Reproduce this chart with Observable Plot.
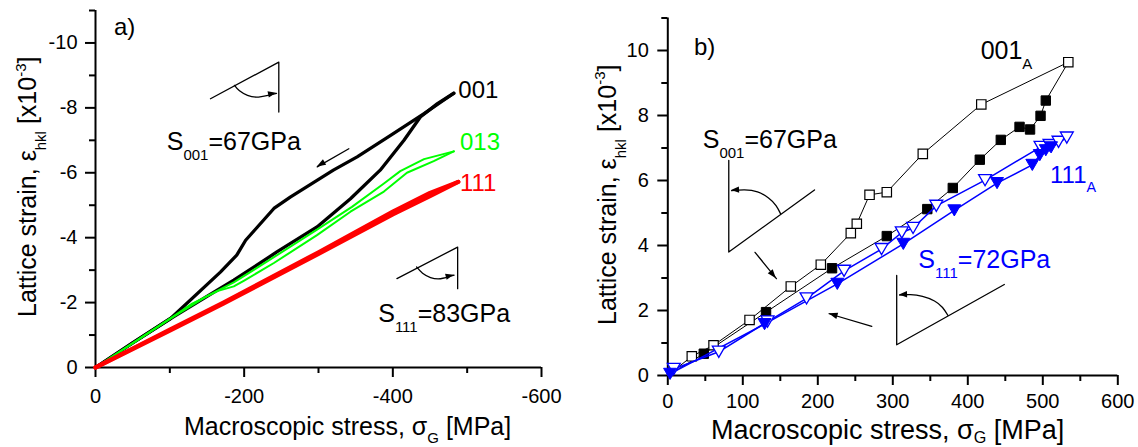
<!DOCTYPE html>
<html>
<head>
<meta charset="utf-8">
<script src="https://cdn.jsdelivr.net/npm/d3@7"></script>
<script src="https://cdn.jsdelivr.net/npm/@observablehq/plot@0.6"></script>
<style>
  body { margin: 0; background: #fff; }
  #wrap { display: flex; width: 1138px; height: 447px; overflow: hidden; background: #fff; }
  #wrap svg { display: block; flex: none; }
</style>
</head>
<body>
<div id="wrap"></div>
<script>
const FONT = '"Liberation Sans", Arial, Helvetica, sans-serif';

// ---------------- Panel a) : compression, lattice strain vs stress ----------------
const a001LoadX   = [0, -50, -101, -186, -244, -298, -343, -383, -415, -437, -460, -482];
const a001LoadY   = [0, -0.76, -1.51, -2.69, -3.56, -4.33, -5.20, -6.08, -7.00, -7.72, -8.13, -8.45];
const a001UnloadX = [-482, -442, -397, -352, -320, -262, -240, -202, -190, -168, -101, -50, 0];
const a001UnloadY = [-8.45, -7.82, -7.15, -6.49, -6.08, -5.25, -4.90, -3.92, -3.46, -2.94, -1.51, -0.76, 0];

const a013UpX  = [0, -60, -100, -150, -186, -240, -298, -345, -388, -410, -442, -482];
const a013UpY  = [0, -0.90, -1.50, -2.20, -2.62, -3.40, -4.25, -4.95, -5.67, -6.05, -6.42, -6.66];
const a013LowX = [-482, -455, -419, -388, -343, -298, -240, -200, -186, -165, -130, -100, -60, 0];
const a013LowY = [-6.66, -6.36, -6.00, -5.42, -4.80, -4.08, -3.22, -2.68, -2.50, -2.36, -1.97, -1.50, -0.90, 0];

const a111LoadX   = [0, -100, -172, -300, -400, -450, -488];
const a111LoadY   = [0, -1.17, -2.00, -3.55, -4.80, -5.38, -5.72];
const a111UnloadX = [-488, -450, -400, -300, -172, -100, 0];
const a111UnloadY = [-5.72, -5.28, -4.72, -3.50, -1.97, -1.14, 0];

const aXMajor = [0, -200, -400, -600];
const aXMinor = [-100, -300, -500];
const aYMajor = [0, -2, -4, -6, -8, -10];
const aYMinor = [-1, -3, -5, -7, -9, -11];

// ---------------- Panel b) : tension, markers ----------------
const bOrigin = [0, 0];
const b001OpenX   = [32, 61, 109, 164, 204, 244, 252, 269, 292, 340, 418, 534];
const b001OpenY   = [0.59, 0.93, 1.71, 2.74, 3.41, 4.38, 4.67, 5.56, 5.64, 6.82, 8.34, 9.64];
const b001FilledX = [504, 497, 483, 469, 444, 416, 380, 346, 292, 219, 131, 48];
const b001FilledY = [8.46, 7.99, 7.57, 7.65, 7.25, 6.64, 5.77, 5.12, 4.29, 3.30, 1.95, 0.67];

const b111OpenX   = [8, 68, 133, 185, 235, 285, 312, 327, 358, 423, 497, 509, 521, 532];
const b111OpenY   = [0.20, 0.73, 1.66, 2.37, 3.22, 3.89, 4.40, 4.54, 5.22, 6.01, 7.03, 7.09, 7.19, 7.32];
const b111FilledX = [511, 504, 496, 486, 439, 382, 314, 226, 129, 3];
const b111FilledY = [7.02, 6.93, 6.78, 6.48, 5.92, 5.08, 4.05, 2.82, 1.58, 0.05];

const bXMajor = [0, 100, 200, 300, 400, 500, 600];
const bXMinor = [50, 150, 250, 350, 450, 550];
const bYMajor = [0, 2, 4, 6, 8, 10];
const bYMinor = [1, 3, 5, 7, 9, 11];

// ---------------- Annotation sketches (data units) ----------------
const aAngle1X = [-154.7, -246.6, -246.6], aAngle1Y = [-8.28, -9.41, -7.87];
const aArc1X = [-187.0, -193.7, -204.5, -219.3, -243.5], aArc1Y = [-8.694, -8.525, -8.386, -8.334, -8.448];
const aAngle2X = [-405.5, -487.2, -487.2], aAngle2Y = [-2.74, -3.71, -2.43];
const aArc2X = [-431.9, -440.0, -450.7, -464.2, -482.4], aArc2Y = [-3.098, -2.904, -2.772, -2.735, -2.843];
const aArrowX = [-340.8, -298.3], aArrowY = [-6.74, -6.18];

const bAngle1X = [81.3, 81.3, 195.6], bAngle1Y = [6.62, 3.80, 5.71];
const bArc1X = [150.3, 144.3, 134.3, 119.6, 102.3, 85.0], bArc1Y = [4.98, 5.23, 5.46, 5.65, 5.71, 5.69];
const bArrow1X = [116.3, 144.8], bArrow1Y = [3.79, 2.98];
const bAngle2X = [305.2, 305.2, 448.7], bAngle2Y = [3.08, 0.945, 2.80];
const bArc2X = [373.6, 366.3, 355.6, 339.6, 323.6, 309.0], bArc2Y = [1.846, 2.092, 2.292, 2.431, 2.486, 2.477];
const bArrow2X = [272, 215.1], bArrow2Y = [1.51, 1.90];

// ---------------- Helpers ----------------
const pts = (xs, ys) => xs.map((x, i) => ({x, y: ys[i]}));

const triDown = {
  draw(ctx, size) {
    const r = Math.sqrt(size / Math.PI);
    const s = r * 1.9, h = s * Math.sqrt(3) / 2;
    ctx.moveTo(-s / 2, -h / 2);
    ctx.lineTo(s / 2, -h / 2);
    ctx.lineTo(0, h / 2);
    ctx.closePath();
  }
};

function axes(xMaj, xMin, yMaj, yMin, xPad, yPad) {
  return [
    Plot.axisX({ticks: xMaj, tickSize: 10, tickPadding: xPad, tickFormat: d => String(d), fontSize: 20, strokeWidth: 2, label: null}),
    Plot.axisX({ticks: xMin, tickSize: 6, tickFormat: () => "", strokeWidth: 2, label: null}),
    Plot.axisY({ticks: yMaj, tickSize: 10, tickPadding: yPad, tickFormat: d => String(d), fontSize: 20, strokeWidth: 2, label: null}),
    Plot.axisY({ticks: yMin, tickSize: 6, tickFormat: () => "", strokeWidth: 2, label: null}),
    Plot.ruleY([0], {strokeWidth: 2}),
    Plot.ruleX([0], {strokeWidth: 2})
  ];
}

function addText(svg, px, py, parts, size, color, rotate, subShift = 0.4) {
  const t = d3.select(svg).append("text")
    .attr("x", px).attr("y", py)
    .attr("font-size", size).attr("fill", color)
    .attr("font-family", FONT)
    .attr("text-anchor", "start")
    .style("white-space", "pre");
  if (rotate) t.attr("transform", `rotate(${rotate} ${px} ${py})`);
  let shift = 0;
  for (const [txt, kind] of parts) {
    const target = kind === "sub" ? subShift * size : kind === "sup" ? -0.42 * size : 0;
    const s = t.append("tspan").text(txt).attr("dy", target - shift);
    if (kind) s.attr("font-size", size * 0.6);
    shift = target;
  }
  return t;
}

function addHead(svg, xs, ys, len = 9, wid = 3.5) {
  const sx = svg.scale("x"), sy = svg.scale("y");
  const n = xs.length;
  const x1 = sx.apply(xs[n - 2]), y1 = sy.apply(ys[n - 2]);
  const x2 = sx.apply(xs[n - 1]), y2 = sy.apply(ys[n - 1]);
  const a = Math.atan2(y2 - y1, x2 - x1);
  const bx = x2 - len * Math.cos(a), by = y2 - len * Math.sin(a);
  const px = -Math.sin(a) * wid, py = Math.cos(a) * wid;
  d3.select(svg).append("path")
    .attr("d", `M${x2},${y2}L${bx + px},${by + py}L${bx - px},${by - py}Z`)
    .attr("fill", "black");
}

function addLabel(svg, lab) {
  const sx = svg.scale("x"), sy = svg.scale("y");
  addText(svg, sx.apply(lab.x), sy.apply(lab.y), lab.parts, lab.size, lab.color);
}

const sketch = {stroke: "black", strokeWidth: 1.3, fill: "none"};

// ---------------- Panel a ----------------
const panelA = Plot.plot({
  width: 580, height: 447,
  marginLeft: 95, marginRight: 39, marginTop: 10, marginBottom: 80,
  style: {fontFamily: FONT, background: "white", color: "black", overflow: "visible"},
  x: {domain: [0, -600], axis: null},
  y: {domain: [0, -11], axis: null},
  marks: [
    ...axes(aXMajor, aXMinor, aYMajor, aYMinor, 11, 8),
    Plot.line(pts(aAngle1X, aAngle1Y), {x: "x", y: "y", ...sketch}),
    Plot.line(pts(aArc1X, aArc1Y), {x: "x", y: "y", curve: "natural", ...sketch}),
    Plot.line(pts(aAngle2X, aAngle2Y), {x: "x", y: "y", ...sketch}),
    Plot.line(pts(aArc2X, aArc2Y), {x: "x", y: "y", curve: "natural", ...sketch}),
    Plot.line(pts(aArrowX, aArrowY), {x: "x", y: "y", ...sketch}),
    Plot.line(pts(a001LoadX, a001LoadY), {x: "x", y: "y", stroke: "black", strokeWidth: 3.3, strokeLinejoin: "round"}),
    Plot.line(pts(a001UnloadX, a001UnloadY), {x: "x", y: "y", stroke: "black", strokeWidth: 3.3, strokeLinejoin: "round"}),
    Plot.line(pts(a013UpX, a013UpY), {x: "x", y: "y", stroke: "#00ff00", strokeWidth: 2, strokeLinejoin: "round"}),
    Plot.line(pts(a013LowX, a013LowY), {x: "x", y: "y", stroke: "#00ff00", strokeWidth: 2, strokeLinejoin: "round"}),
    Plot.line(pts(a111LoadX, a111LoadY), {x: "x", y: "y", stroke: "#ff0000", strokeWidth: 4.2, strokeLinejoin: "round"}),
    Plot.line(pts(a111UnloadX, a111UnloadY), {x: "x", y: "y", stroke: "#ff0000", strokeWidth: 4.2, strokeLinejoin: "round"})
  ]
});
addHead(panelA, aArc1X, aArc1Y, 8, 3.2);
addHead(panelA, aArc2X, aArc2Y, 8, 3.2);
addHead(panelA, aArrowX, aArrowY, 9, 3.2);
[
  {x: -25.6, y: -10.23, parts: [["a)"]], size: 24, color: "black"},
  {x: -488.8, y: -8.28, parts: [["001"]], size: 24, color: "black"},
  {x: -491, y: -6.69, parts: [["013"]], size: 24, color: "#00ff00"},
  {x: -491, y: -5.41, parts: [["111"]], size: 24, color: "#ff0000"},
  {x: -96.5, y: -6.69, parts: [["S"], ["001", "sub"], ["=67GPa"]], size: 25, color: "black"},
  {x: -381, y: -1.40, parts: [["S"], ["111", "sub"], ["=83GPa"]], size: 25, color: "black"}
].forEach(l => addLabel(panelA, l));
addText(panelA, 184, 435, [["Macroscopic stress, σ"], ["G", "sub"], [" [MPa]"]], 25, "black", 0, 0.3);
addText(panelA, 36, 317, [["Lattice strain, ε"], ["hkl", "sub"], [" [x10"], ["-3", "sup"], ["]"]], 25, "black", -90);

// ---------------- Panel b ----------------
const b001Line = [pts([bOrigin[0]], [bOrigin[1]]), pts(b001OpenX, b001OpenY), pts(b001FilledX, b001FilledY), pts([bOrigin[0]], [bOrigin[1]])].flat();
const b111Line1 = pts(b111OpenX, b111OpenY);
const b111Line2 = [pts(b111OpenX.slice(-1), b111OpenY.slice(-1)), pts(b111FilledX, b111FilledY)].flat();

const panelB = Plot.plot({
  width: 558, height: 447,
  marginLeft: 87.3, marginRight: 20.7, marginTop: 17.5, marginBottom: 72,
  style: {fontFamily: FONT, background: "white", color: "black", overflow: "visible"},
  x: {domain: [0, 600], axis: null},
  y: {domain: [0, 11], axis: null},
  marks: [
    ...axes(bXMajor, bXMinor, bYMajor, bYMinor, 8, 9),
    Plot.line(pts(bAngle1X, bAngle1Y), {x: "x", y: "y", ...sketch}),
    Plot.line(pts(bArc1X, bArc1Y), {x: "x", y: "y", curve: "natural", ...sketch}),
    Plot.line(pts(bArrow1X, bArrow1Y), {x: "x", y: "y", ...sketch}),
    Plot.line(pts(bAngle2X, bAngle2Y), {x: "x", y: "y", ...sketch}),
    Plot.line(pts(bArc2X, bArc2Y), {x: "x", y: "y", curve: "natural", ...sketch}),
    Plot.line(pts(bArrow2X, bArrow2Y), {x: "x", y: "y", ...sketch}),
    Plot.line(b001Line, {x: "x", y: "y", stroke: "black", strokeWidth: 1}),
    Plot.dot(pts(b001OpenX, b001OpenY), {x: "x", y: "y", symbol: "square", r: 5.3, fill: "white", stroke: "black", strokeWidth: 1.2}),
    Plot.dot(pts(b001FilledX, b001FilledY), {x: "x", y: "y", symbol: "square", r: 5.3, fill: "black", stroke: "black", strokeWidth: 1}),
    Plot.line(b111Line1, {x: "x", y: "y", stroke: "#0000ff", strokeWidth: 1.5}),
    Plot.line(b111Line2, {x: "x", y: "y", stroke: "#0000ff", strokeWidth: 1.5}),
    Plot.dot(pts(b111OpenX, b111OpenY), {x: "x", y: "y", symbol: triDown, r: 6.8, fill: "white", stroke: "#0000ff", strokeWidth: 1.3}),
    Plot.dot(pts(b111FilledX, b111FilledY), {x: "x", y: "y", symbol: triDown, r: 6.8, fill: "#0000ff", stroke: "#0000ff", strokeWidth: 1})
  ]
});
addHead(panelB, bArc1X, bArc1Y, 8, 3.2);
addHead(panelB, bArc2X, bArc2Y, 8, 3.2);
addHead(panelB, bArrow1X, bArrow1Y, 9, 3.2);
addHead(panelB, bArrow2X, bArrow2Y, 9, 3.2);
[
  {x: 35.6, y: 9.84, parts: [["b)"]], size: 24, color: "black"},
  {x: 417.8, y: 9.72, parts: [["001"], ["A", "sub"]], size: 25, color: "black"},
  {x: 47.2, y: 6.98, parts: [["S"], ["001", "sub"], ["=67GPa"]], size: 25, color: "black"},
  {x: 334.7, y: 3.28, parts: [["S"], ["111", "sub"], ["=72GPa"]], size: 25, color: "#0000ff"},
  {x: 510.3, y: 5.92, parts: [["111"], ["A", "sub"]], size: 24, color: "#0000ff"}
].forEach(l => addLabel(panelB, l));
addText(panelB, 131, 438.5, [["Macroscopic stress, σ"], ["G", "sub"], [" [MPa]"]], 27, "black", 0, 0.15);
addText(panelB, 35.6, 325, [["Lattice strain, ε"], ["hkl", "sub"], [" [x10"], ["-3", "sup"], ["]"]], 25, "black", -90);

const wrap = document.getElementById("wrap");
wrap.appendChild(panelA);
wrap.appendChild(panelB);
</script>
</body>
</html>
